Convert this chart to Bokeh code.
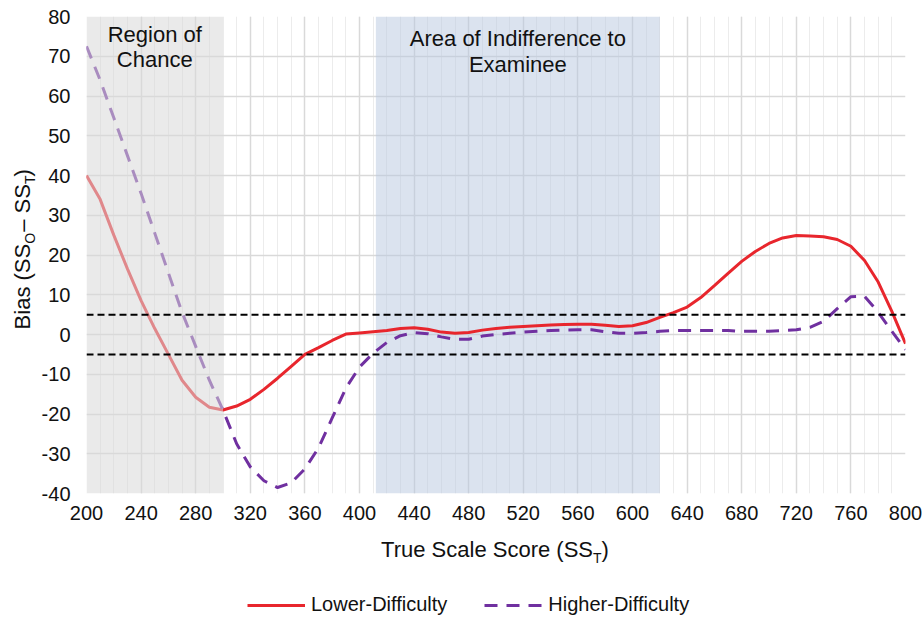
import math
from bokeh.plotting import figure
from bokeh.layouts import column, row
from bokeh.models import (Range1d, FixedTicker, Label, Legend, LegendItem, Span,
                          PrintfTickFormatter)
from bokeh.embed import file_html
from bokeh.resources import INLINE

# ---------------- data ----------------
scores = list(range(200, 801, 10))
lower_difficulty = [40, 34, 25, 16.5, 8.5, 1.5, -5, -11.5, -15.8, -18.3,
                    -19, -18, -16.3, -13.8, -11, -8, -5, -3.3, -1.5, 0.1,
                    0.4, 0.7, 1.0, 1.5, 1.7, 1.3, 0.6, 0.3, 0.5, 1.1,
                    1.5, 1.8, 2.0, 2.2, 2.4, 2.5, 2.6, 2.6, 2.3, 2.0,
                    2.2, 3.0, 4.3, 5.5, 6.9, 9.3, 12.3, 15.4, 18.4, 20.9,
                    22.9, 24.3, 24.9, 24.8, 24.6, 23.9, 22.2, 18.6, 13.2, 5.8,
                    -2.3]
higher_difficulty = [72.5, 64, 54.5, 45, 35.5, 25.5, 15.5, 5.6, -3, -11.5,
                     -19, -27.5, -33.3, -36.8, -38.5, -37.3, -33.8, -28.5, -21, -13.5,
                     -8.2, -4.7, -2, -0.3, 0.5, 0.2, -0.6, -1.2, -1.2, -0.4,
                     0, 0.3, 0.6, 0.8, 1.0, 1.1, 1.2, 1.2, 0.7, 0.3,
                     0.3, 0.5, 0.8, 1.0, 1.0, 1.0, 1.0, 1.0, 0.8, 0.8,
                     0.8, 1.0, 1.2, 1.8, 3.3, 6.5, 9.5, 9.6, 5.6, 0.8,
                     -3.8]
x_ticks = list(range(200, 801, 40))
y_ticks = list(range(-40, 81, 10))
chance_region = (200, 300)
indifference_region = (412, 620)
tolerance_band = (-5, 5)
series_names = ["Lower-Difficulty", "Higher-Difficulty"]

# ---------------- layout (global canvas pixels) ----------------
W, H = 922, 617
YSTRIP = 36            # strip holding the y-axis title
PH = 533               # main plot height
L, R, T = 86, 17, 16   # frame offsets in global pixels
FB = 493               # frame bottom in global pixels
XMIN, XMAX, YMIN, YMAX = 200, 800, -40, 80
FW, FH = W - L - R, FB - T

def dx(px):
    return XMIN + (px - L) * (XMAX - XMIN) / FW

def dy(py):
    return YMAX - (py - T) * (YMAX - YMIN) / FH

def off(size):
    # distance from the label anchor to the text baseline as rendered
    return 0.4 * size

FONT = "Liberation Sans"
RED = "#e8262d"
PURPLE = "#7030a0"
TXT = "#111111"

p = figure(width=W - YSTRIP, height=PH, output_backend="svg", toolbar_location=None,
           x_range=Range1d(XMIN, XMAX), y_range=Range1d(YMIN, YMAX),
           min_border_left=L - YSTRIP, min_border_right=R, min_border_top=T,
           min_border_bottom=PH - FB, title=None)
p.outline_line_color = None

xt = FixedTicker(ticks=x_ticks, minor_ticks=scores)
p.xaxis.ticker = xt
p.xgrid.ticker = xt
yt = FixedTicker(ticks=y_ticks)
p.yaxis.ticker = yt
p.ygrid.ticker = yt
p.yaxis.formatter = PrintfTickFormatter(format="%d")
p.xaxis.formatter = PrintfTickFormatter(format="%d")

for ax in (p.xaxis[0], p.yaxis[0]):
    ax.axis_line_color = None
    ax.major_tick_line_color = None
    ax.minor_tick_line_color = None
    ax.major_tick_out = 0
    ax.minor_tick_out = 0
    ax.major_label_text_font = FONT
    ax.major_label_text_font_size = "20px"
    ax.major_label_text_color = TXT
p.xaxis.major_label_standoff = 12
p.yaxis.major_label_standoff = 16

p.xgrid.grid_line_color = "#d9d9d9"
p.xgrid.minor_grid_line_color = "#ececec"
p.ygrid.grid_line_color = "#d9d9d9"
p.xgrid.grid_line_width = 1.5
p.ygrid.grid_line_width = 1.5

# indifference area (under lines)
p.quad(left=[indifference_region[0]], right=[indifference_region[1]],
       bottom=[YMIN], top=[YMAX], fill_color="#b8c8e0", fill_alpha=0.5,
       line_color=None)

for v in tolerance_band:
    p.add_layout(Span(location=v, dimension="width", line_color="black",
                      line_dash="7 4", line_width=2))

r_low = p.line(scores, lower_difficulty, line_color=RED, line_width=3)
r_high = p.line(scores, higher_difficulty, line_color=PURPLE, line_width=3,
                line_dash="13 9")

# chance region overlay (dims what lies beneath)
p.quad(left=[chance_region[0]], right=[chance_region[1]],
       bottom=[YMIN], top=[YMAX], fill_color="#d9d9d9", fill_alpha=0.55,
       line_color=None)

def lab(fig, text, x, y, size, align="center", angle=0.0):
    fig.add_layout(Label(x=x, y=y, text=text, text_font=FONT,
                         text_font_size=f"{size}px", text_color=TXT,
                         text_align=align, text_baseline="alphabetic",
                         angle=angle))

cx1 = L + (sum(chance_region) / 2 - XMIN) * FW / (XMAX - XMIN)
lab(p, "Region of", dx(cx1), dy(43 - off(22)), 22)
lab(p, "Chance", dx(cx1), dy(68 - off(22)), 22)
cx2 = L + (sum(indifference_region) / 2 - XMIN) * FW / (XMAX - XMIN)
lab(p, "Area of Indifference to", dx(cx2), dy(47 - off(22)), 22)
lab(p, "Examinee", dx(cx2), dy(73 - off(22)), 22)

def strip(w, h):
    f = figure(width=w, height=h, output_backend="svg", toolbar_location=None,
               x_range=Range1d(0, w), y_range=Range1d(h, 0),
               x_axis_type=None, y_axis_type=None, min_border=0, title=None)
    f.outline_line_color = None
    f.grid.visible = False
    return f

# y-axis title strip (coordinates = canvas pixels); text runs bottom -> top
ys = strip(YSTRIP, PH)
a = math.pi / 2
ya = 254.0
sub_o, dash_ss, sub_t = 12.9, 53.8, 8.6
mb, sb = 31.0, 35.5          # baselines of main text and subscripts
lab(ys, "Bias (SS", mb - off(22), ya, 22, align="right", angle=a)
lab(ys, "O", sb - off(14), ya, 14, align="left", angle=a)
lab(ys, "\u2013 SS", mb - off(22), ya - sub_o - dash_ss, 22, align="right", angle=a)
lab(ys, "T", sb - off(14), ya - sub_o - dash_ss, 14, align="left", angle=a)
lab(ys, ")", mb - off(22), ya - sub_o - dash_ss - sub_t, 22, align="left", angle=a)

# x-axis title + legend strip (x = canvas px, y = canvas py - PH)
XH = H - PH
xs = strip(W, XH)
xa = 592.5
lab(xs, "True Scale Score (SS", xa, 558 - off(22) - PH, 22, align="right")
lab(xs, "T", xa, 563 - off(14) - PH, 14, align="left")
lab(xs, ")", xa + sub_t, 558 - off(22) - PH, 22, align="left")

# legend samples: same series, drawn on a hidden range so only the key shows
xs.extra_y_ranges = {"hidden": Range1d(1000, 2000)}
k_low = xs.line(scores, lower_difficulty, y_range_name="hidden",
                line_color=RED, line_width=3)
k_high = xs.line(scores, higher_difficulty, y_range_name="hidden",
                 line_color=PURPLE, line_width=3, line_dash="13 9")
legend = Legend(items=[LegendItem(label=series_names[0], renderers=[k_low]),
                       LegendItem(label=series_names[1], renderers=[k_high])],
                location=(247, 1), orientation="horizontal",
                glyph_width=58, glyph_height=20, label_standoff=6, spacing=37,
                padding=0, margin=0, border_line_color=None,
                background_fill_alpha=0, label_text_font=FONT,
                label_text_font_size="20px", label_text_color=TXT)
xs.add_layout(legend, "center")

layout = column(row(ys, p, spacing=0), xs, spacing=0)
open("out.html", "w").write(file_html(layout, INLINE))
